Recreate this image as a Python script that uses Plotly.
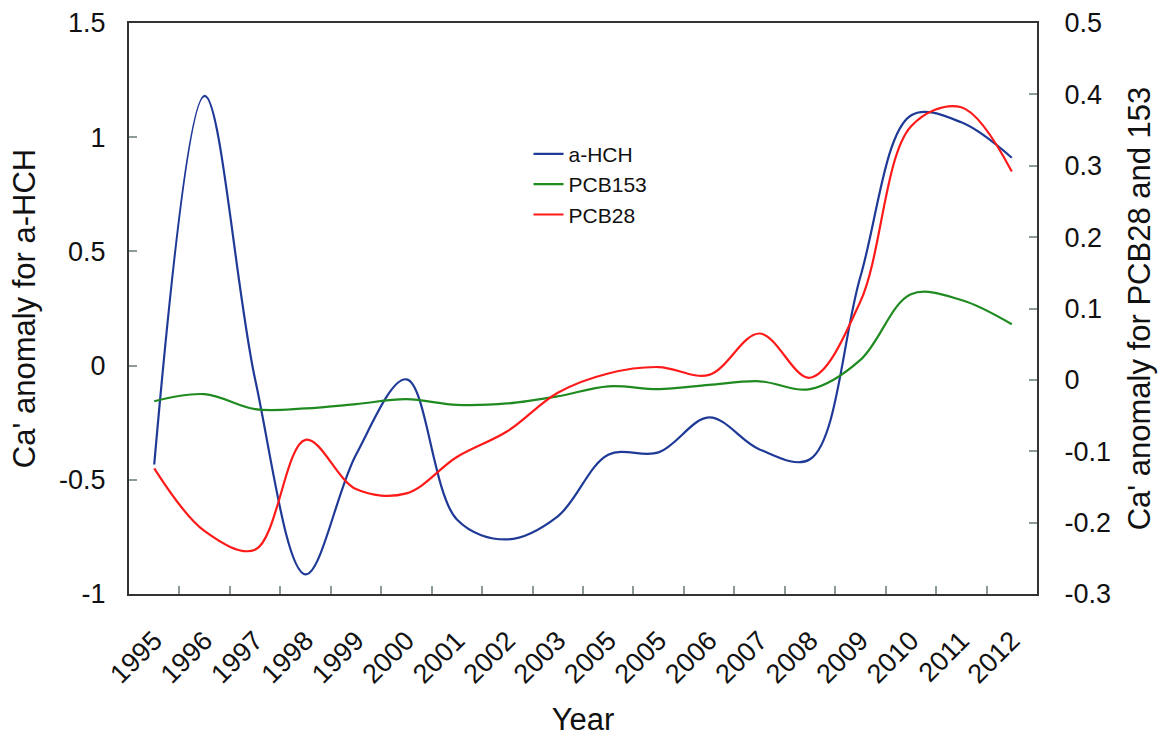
import plotly.graph_objects as go

year_labels = ["1995", "1996", "1997", "1998", "1999", "2000", "2001", "2002", "2003",
               "2005", "2005", "2006", "2007", "2008", "2009", "2010", "2011", "2012"]
x_idx = list(range(len(year_labels)))

a_hch = [-0.433, 1.181, -0.06, -0.914, -0.39, -0.06, -0.674, -0.761, -0.66,
         -0.39, -0.38, -0.227, -0.367, -0.41, 0.39, 1.095, 1.065, 0.91]
pcb153 = [-0.030, -0.020, -0.041, -0.040, -0.034, -0.027, -0.035, -0.033, -0.023,
          -0.009, -0.013, -0.007, -0.002, -0.013, 0.028, 0.120, 0.112, 0.078]
pcb28 = [-0.124, -0.212, -0.238, -0.084, -0.153, -0.159, -0.108, -0.072, -0.018,
         0.009, 0.018, 0.007, 0.065, 0.003, 0.110, 0.355, 0.382, 0.292]

left_ticks = [-1, -0.5, 0, 0.5, 1, 1.5]
left_text = ["-1", "-0.5", "0", "0.5", "1", "1.5"]
right_ticks = [-0.3, -0.2, -0.1, 0, 0.1, 0.2, 0.3, 0.4, 0.5]
right_text = ["-0.3", "-0.2", "-0.1", "0", "0.1", "0.2", "0.3", "0.4", "0.5"]

FONT = "Liberation Sans, Arial, sans-serif"
AX = "#333333"
TK = "#8c9a9a"

fig = go.Figure()
fig.add_trace(go.Scatter(x=x_idx, y=a_hch, name="a-HCH", mode="lines",
                         line=dict(color="#1f3a96", width=2.2, shape="spline", smoothing=1.0),
                         legendgroup="a"))
fig.add_trace(go.Scatter(x=x_idx, y=pcb153, name="PCB153", mode="lines", yaxis="y2",
                         line=dict(color="#1f8a1f", width=2.2, shape="spline", smoothing=1.0),
                         legendgroup="b"))
fig.add_trace(go.Scatter(x=x_idx, y=pcb28, name="PCB28", mode="lines", yaxis="y2",
                         line=dict(color="#ff1a1a", width=2.2, shape="spline", smoothing=1.0),
                         legendgroup="c"))

fig.update_layout(
    width=1162, height=740,
    margin=dict(l=129, r=125, t=23, b=146, autoexpand=False),
    paper_bgcolor="white", plot_bgcolor="white",
    font=dict(family=FONT, color="#111111", size=27),
    showlegend=True,
    legend=dict(x=0.44, y=0.806, xanchor="left", yanchor="top",
                bgcolor="rgba(0,0,0,0)", font=dict(size=21, family=FONT),
                tracegroupgap=5, traceorder="normal"),
    xaxis=dict(
        range=[-0.5, len(year_labels) - 0.5],
        tickmode="array", tickvals=x_idx, ticktext=year_labels,
        tickangle=-45, ticks="", showgrid=False, zeroline=False,
        showline=True, linecolor=AX, linewidth=2, mirror=True,
        tickfont=dict(size=27), ticklabelstandoff=18,
        minor=dict(tickmode="array",
                   tickvals=[i - 0.5 for i in range(1, len(year_labels))],
                   ticks="inside", ticklen=8, tickcolor=TK, tickwidth=1.5, showgrid=False),
        title=dict(text="Year", font=dict(size=31), standoff=20),
    ),
    yaxis=dict(
        range=[-1, 1.5], tickmode="array", tickvals=left_ticks, ticktext=left_text,
        ticks="inside", ticklen=8, tickcolor=TK, tickwidth=1.5,
        showgrid=False, zeroline=False, showline=True, linecolor=AX, linewidth=2,
        ticklabelstandoff=16, tickfont=dict(size=27),
        title=dict(text="Ca' anomaly for a-HCH", font=dict(size=31), standoff=14),
    ),
    yaxis2=dict(
        range=[-0.3, 0.5], tickmode="array", tickvals=right_ticks, ticktext=right_text,
        overlaying="y", side="right",
        ticks="inside", ticklen=8, tickcolor=TK, tickwidth=1.5,
        showgrid=False, zeroline=False, showline=True, linecolor=AX, linewidth=2,
        ticklabelstandoff=20, tickfont=dict(size=27),
        title=dict(text="Ca' anomaly for PCB28 and 153", font=dict(size=31), standoff=18),
    ),
)

fig.write_html("out.html")
